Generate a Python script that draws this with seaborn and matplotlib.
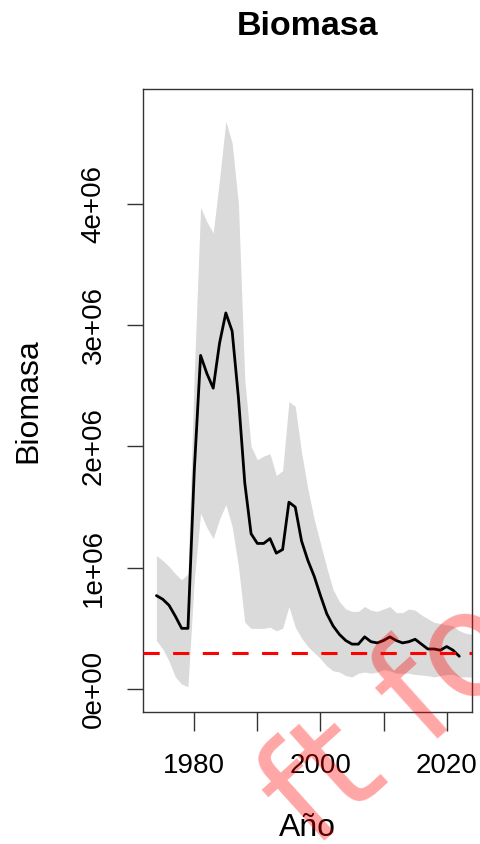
import numpy as np
import pandas as pd
import matplotlib
matplotlib.use("Agg")
import matplotlib.pyplot as plt
import seaborn as sns

# Estimated biomass (tonnes) and its confidence band
years = list(range(1974, 2023))
biomass = [0.77, 0.74, 0.69, 0.60, 0.50, 0.50, 1.80, 2.75, 2.60, 2.48,
           2.85, 3.10, 2.95, 2.40, 1.70, 1.28, 1.20, 1.20, 1.24, 1.12,
           1.15, 1.54, 1.50, 1.22, 1.06, 0.93, 0.77, 0.62, 0.52, 0.45,
           0.40, 0.37, 0.37, 0.43, 0.39, 0.38, 0.40, 0.43, 0.40, 0.38,
           0.39, 0.41, 0.37, 0.33, 0.33, 0.32, 0.35, 0.32, 0.27]

band_years = list(range(1974, 2025))
band_upper = [1.10, 1.06, 1.01, 0.95, 0.90, 0.95, 2.60, 3.97, 3.85, 3.76,
              4.20, 4.68, 4.50, 4.00, 2.55, 2.00, 1.89, 1.92, 1.94, 1.76,
              1.80, 2.37, 2.33, 1.95, 1.65, 1.40, 1.20, 1.00, 0.82, 0.72,
              0.66, 0.64, 0.64, 0.68, 0.65, 0.64, 0.66, 0.68, 0.63, 0.63,
              0.66, 0.65, 0.61, 0.58, 0.55, 0.54, 0.53, 0.52, 0.48, 0.46,
              0.45]
band_lower = [0.40, 0.33, 0.23, 0.10, 0.04, 0.02, 0.90, 1.45, 1.33, 1.24,
              1.40, 1.52, 1.34, 1.01, 0.55, 0.50, 0.50, 0.50, 0.51, 0.48,
              0.50, 0.68, 0.51, 0.42, 0.35, 0.30, 0.25, 0.19, 0.15, 0.14,
              0.11, 0.10, 0.13, 0.14, 0.13, 0.14, 0.16, 0.15, 0.13, 0.13,
              0.13, 0.12, 0.115, 0.11, 0.10, 0.11, 0.12, 0.12, 0.10, 0.10,
              0.10]
scale = 1e6
reference_level = 0.30  # reference biomass (millions)

y_ticks = [0, 1, 2, 3, 4]
y_tick_labels = ["0e+00", "1e+06", "2e+06", "3e+06", "4e+06"]
x_ticks = [1980, 1990, 2000, 2010, 2020]
x_tick_labels = ["1980", "", "2000", "", "2020"]

df = pd.DataFrame({"Año": years, "Biomasa": np.array(biomass) * scale})

sns.set_style("white")
plt.rcParams["font.family"] = ["Liberation Sans", "DejaVu Sans"]
plt.rcParams["text.color"] = "black"
plt.rcParams["axes.labelcolor"] = "black"

W, H = 481, 844
fig = plt.figure(figsize=(W / 100, H / 100), dpi=100)
left, right, top, bottom = 143.3, 472.3, 89.0, 711.7
ax = fig.add_axes([left / W, 1 - bottom / H, (right - left) / W, (bottom - top) / H])

ax.fill_between(band_years, np.array(band_lower) * scale, np.array(band_upper) * scale,
                color="#dadada", linewidth=0, zorder=1)
sns.lineplot(data=df, x="Año", y="Biomasa", ax=ax, color="black", linewidth=2.0,
             zorder=3)
ax.axhline(reference_level * scale, color="red", linewidth=2.2, dashes=(5.3, 4.4),
           zorder=4)

ax.set_xlim(1971.92, 2024.06)
ax.set_ylim(-0.187e6, 4.946e6)

ax.set_xticks(x_ticks)
ax.set_xticklabels(x_tick_labels)
ax.set_yticks(np.array(y_ticks) * scale)
ax.set_yticklabels(y_tick_labels, rotation=90, va="center")

for s in ax.spines.values():
    s.set_color("#333333")
    s.set_linewidth(1.0)
ax.tick_params(axis="x", length=13.5, width=1.0, color="#333333", pad=16,
               labelsize=20, labelcolor="black", direction="out", bottom=True)
ax.tick_params(axis="y", length=11.5, width=1.0, color="#333333", pad=15,
               labelsize=20, labelcolor="black", direction="out", left=True)

ax.set_title("Biomasa", fontsize=24.5, fontweight="bold", color="black",
             y=(bottom - 35) / (bottom - top), va="baseline", pad=0)
ax.set_xlabel("Año", fontsize=23)
ax.xaxis.label.set_va("bottom")
ax.xaxis.set_label_coords(0.5, (bottom - 843) / (bottom - top))
ax.set_ylabel("Biomasa", fontsize=23)
ax.yaxis.label.set_va("center")
ax.yaxis.set_label_coords((28 - left) / (right - left), 0.5)

fig.text(394 / W, 1 - 722 / H, "ft fo", rotation=42, rotation_mode="anchor",
         ha="center", va="center", fontsize=105, color="red", alpha=0.35,
         family="DejaVu Sans")

fig.savefig("out.png", dpi=100)
